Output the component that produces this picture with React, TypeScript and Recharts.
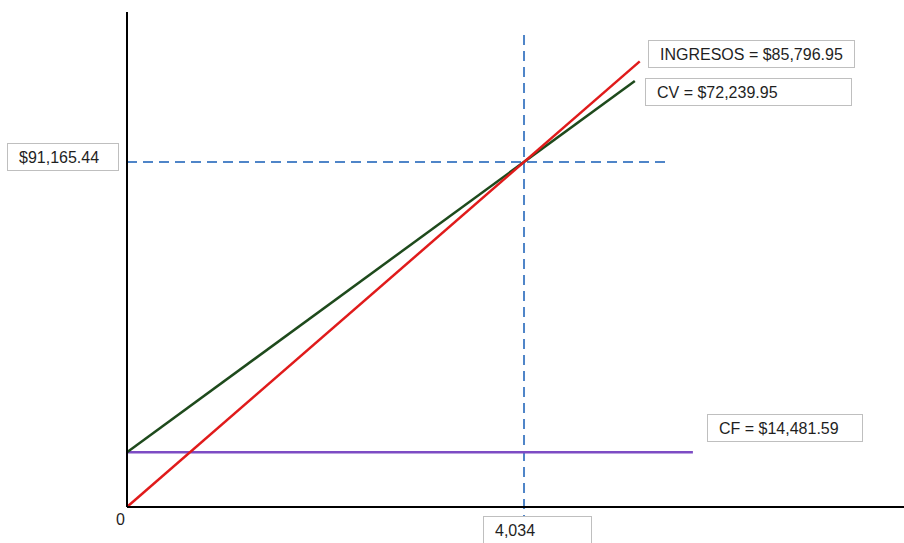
import { Line, LineChart, ReferenceLine, XAxis, YAxis } from "recharts"

// punto de equilibrio
const peUnidades = 4034
const peVentas = 91165.44

const ingresos = [
  { x: 0, y: 0 },
  { x: 5210, y: 117750 },
]
const costoTotal = [
  { x: 0, y: 14481.59 },
  { x: 5160, y: 112580 },
]
const costoFijo = [
  { x: 0, y: 14481.59 },
  { x: 5750, y: 14481.59 },
]

// extensión de las guías punteadas
const guiaVertical = [124700, -9600]
const guiaHorizontal = [0, 5470]

const etiquetas = [
  { texto: "INGRESOS = $85,796.95", left: 648, top: 40, width: 207 },
  { texto: "CV = $72,239.95", left: 645, top: 78, width: 207 },
  { texto: "$91,165.44", left: 7, top: 143, width: 112 },
  { texto: "CF = $14,481.59", left: 707, top: 414, width: 156 },
  { texto: "4,034", left: 483, top: 516, width: 109 },
]

const font = "'Liberation Sans', Arial, sans-serif"

export default function App() {
  return (
    <div style={{ position: "absolute", left: 0, top: 0, width: 904, height: 543, overflow: "hidden", background: "#fff" }}>
      <LineChart width={904} height={543} margin={{ top: 12, right: 0, bottom: 0, left: 0 }}>
        <XAxis
          type="number"
          dataKey="x"
          domain={[0, 7895]}
          height={36}
          tick={false}
          tickLine={false}
          axisLine={{ stroke: "#000", strokeWidth: 2 }}
          allowDataOverflow
        />
        <YAxis
          type="number"
          dataKey="y"
          domain={[0, 130800]}
          width={127}
          tick={false}
          tickLine={false}
          axisLine={{ stroke: "#000", strokeWidth: 2 }}
          allowDataOverflow
        />
        <ReferenceLine
          segment={[
            { x: peUnidades, y: guiaVertical[0] },
            { x: peUnidades, y: guiaVertical[1] },
          ]}
          stroke="#4f85c8"
          strokeWidth={2}
          strokeDasharray="10 6"
          ifOverflow="visible"
        />
        <ReferenceLine
          segment={[
            { x: guiaHorizontal[0], y: peVentas },
            { x: guiaHorizontal[1], y: peVentas },
          ]}
          stroke="#4f85c8"
          strokeWidth={2}
          strokeDasharray="10 6"
          ifOverflow="visible"
        />
        <Line data={costoFijo} dataKey="y" stroke="#7d4cc4" strokeWidth={2.5} dot={false} isAnimationActive={false} />
        <Line data={costoTotal} dataKey="y" stroke="#1e4a1c" strokeWidth={2.5} dot={false} isAnimationActive={false} />
        <Line data={ingresos} dataKey="y" stroke="#e01b1b" strokeWidth={2.5} dot={false} isAnimationActive={false} />
      </LineChart>

      {etiquetas.map((e) => (
        <div
          key={e.texto}
          style={{
            position: "absolute",
            left: e.left,
            top: e.top,
            width: e.width,
            height: 28,
            boxSizing: "border-box",
            border: "1px solid #bfbfbf",
            background: "#fff",
            paddingLeft: 11,
            fontFamily: font,
            fontSize: 16,
            lineHeight: "28px",
            color: "#1f1f1f",
            whiteSpace: "nowrap",
          }}
        >
          {e.texto}
        </div>
      ))}
      <div style={{ position: "absolute", left: 116, top: 511, fontFamily: font, fontSize: 16, color: "#1f1f1f" }}>0</div>
    </div>
  )
}
